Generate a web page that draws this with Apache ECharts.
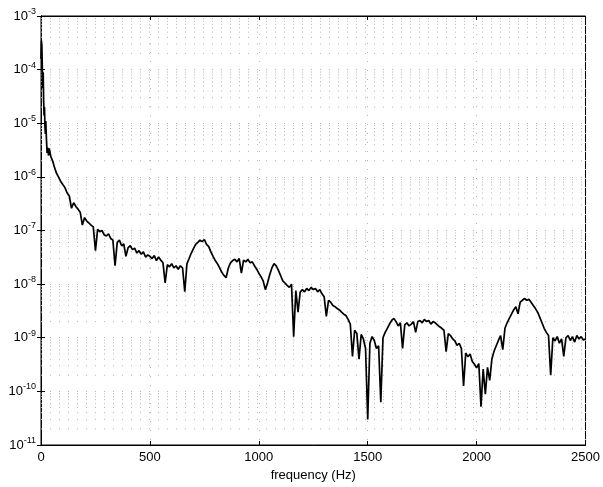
<!DOCTYPE html>
<html lang="en">
<head>
    <meta charset="UTF-8">
    <title>Spectrum</title>
    <script src="https://cdn.jsdelivr.net/npm/echarts@6/dist/echarts.min.js"></script>
    <style>
	html, body { padding: 0; margin: 0; width: 100%; height: 100%; background: #fff; }
	#main { width: 603px; height: 487px; }
    </style>
</head>
<body>
    <div id="main"></div>
    <script type="text/javascript">
        // frequency samples (Hz)
        var freqHz = [
            0, 2, 4, 6, 8, 10, 12, 14, 16, 18, 20, 22, 25, 28, 30, 32, 35, 38, 41, 45, 50, 55,
            60, 70, 80, 90, 100, 110, 120, 130, 140, 150, 160, 170, 180, 190,
            200, 210, 220, 230, 240, 250, 260, 270, 280, 290,
            300, 310, 320, 330, 340, 350, 360, 370, 380, 390,
            400, 410, 420, 430, 440, 450, 460, 470, 480, 490,
            500, 510, 520, 530, 540, 550, 560, 570, 580, 590,
            600, 610, 620, 630, 640, 650, 660, 670, 680, 690,
            700, 710, 720, 730, 740, 750, 760, 770, 780, 790,
            800, 810, 820, 830, 840, 850, 860, 870, 880, 890,
            900, 910, 920, 930, 940, 950, 960, 970, 980, 990,
            1000, 1010, 1020, 1030, 1040, 1050, 1060, 1070, 1080, 1090,
            1100, 1110, 1120, 1130, 1140, 1150, 1160, 1170, 1180, 1190,
            1200, 1210, 1220, 1230, 1240, 1250, 1260, 1270, 1280, 1290,
            1300, 1310, 1320, 1330, 1340, 1350, 1360, 1370, 1380, 1390,
            1400, 1410, 1420, 1430, 1440, 1450, 1460, 1470, 1480, 1490,
            1500, 1510, 1520, 1530, 1540, 1550, 1560, 1570, 1580, 1590,
            1600, 1610, 1620, 1630, 1640, 1650, 1660, 1670, 1680, 1690,
            1700, 1710, 1720, 1730, 1740, 1750, 1760, 1770, 1780, 1790,
            1800, 1810, 1820, 1830, 1840, 1850, 1860, 1870, 1880, 1890,
            1900, 1910, 1920, 1930, 1940, 1950, 1960, 1970, 1980, 1990,
            2000, 2010, 2020, 2030, 2040, 2050, 2060, 2070, 2080, 2090,
            2100, 2110, 2120, 2130, 2140, 2150, 2160, 2170, 2180, 2190,
            2200, 2210, 2220, 2230, 2240, 2250, 2260, 2270, 2280, 2290,
            2300, 2310, 2320, 2330, 2340, 2350, 2360, 2370, 2380, 2390,
            2400, 2410, 2420, 2430, 2440, 2450, 2460, 2470, 2480, 2490,
            2500
        ];
        // power spectral density
        var psd = [
            1.6e-4, 3.5e-4, 2.8e-4, 1.1e-4, 4.5e-5, 8.9e-5, 2.8e-5, 1.4e-5, 2.0e-5, 8.9e-6, 6.3e-6, 1.1e-5, 5.0e-6, 2.8e-6, 3.5e-6, 3.3e-6, 2.5e-6, 3.4e-6, 3.2e-6, 2.4e-6, 2.5e-6, 1.9e-6,
            1.6e-6, 1.2e-6, 1.0e-6, 8.3e-7, 7.2e-7, 6.3e-7, 5.0e-7, 4.4e-7, 2.6e-7, 3.3e-7, 2.8e-7, 2.5e-7, 2.2e-7, 1.26e-7,
            1.74e-7, 1.5e-7, 1.38e-7, 1.26e-7, 1.17e-7, 4.2e-8, 1.05e-7, 9.5e-8, 1.0e-7, 8.3e-8,
            7.9e-8, 8.7e-8, 7.1e-8, 6.6e-8, 2.2e-8, 6.0e-8, 6.6e-8, 5.2e-8, 5.6e-8, 3.3e-8,
            4.8e-8, 5.2e-8, 4.4e-8, 4.7e-8, 3.8e-8, 4.2e-8, 3.6e-8, 4.0e-8, 3.2e-8, 3.5e-8,
            3.3e-8, 3.0e-8, 3.4e-8, 2.75e-8, 3.2e-8, 2.8e-8, 2.5e-8, 1.05e-8, 2.3e-8, 2.1e-8,
            2.4e-8, 2.0e-8, 2.2e-8, 1.9e-8, 2.2e-8, 2.0e-8, 7.2e-9, 2.4e-8, 3.0e-8, 3.8e-8,
            4.6e-8, 5.5e-8, 6.0e-8, 6.6e-8, 6.2e-8, 6.8e-8, 5.5e-8, 5.0e-8, 4.0e-8, 3.3e-8,
            2.75e-8, 2.4e-8, 2.0e-8, 1.66e-8, 1.45e-8, 1.32e-8, 2.0e-8, 2.5e-8, 2.75e-8, 2.9e-8,
            2.6e-8, 3.0e-8, 1.6e-8, 2.8e-8, 2.6e-8, 2.9e-8, 2.5e-8, 2.6e-8, 2.2e-8, 1.9e-8,
            1.6e-8, 1.38e-8, 1.15e-8, 7.9e-9, 1.05e-8, 1.5e-8, 2.0e-8, 2.4e-8, 2.2e-8, 1.8e-8,
            1.45e-8, 1.15e-8, 1.05e-8, 9.5e-9, 8.7e-9, 1.0e-8, 1.05e-9, 7.6e-9, 3.0e-9, 7.1e-9,
            7.9e-9, 7.2e-9, 8.3e-9, 7.6e-9, 8.7e-9, 7.9e-9, 8.3e-9, 7.2e-9, 7.9e-9, 6.6e-9,
            5.8e-9, 2.5e-9, 5.0e-9, 4.6e-9, 4.0e-9, 3.8e-9, 3.5e-9, 3.3e-9, 3.0e-9, 2.75e-9,
            2.6e-9, 2.2e-9, 1.8e-9, 4.5e-10, 1.38e-9, 1.2e-9, 4.0e-10, 1.15e-9, 9.5e-10, 6.3e-10,
            3.0e-11, 7.9e-10, 1.05e-9, 8.9e-10, 6.3e-10, 7.1e-10, 6.3e-11, 1.0e-9, 1.26e-9, 1.5e-9,
            1.8e-9, 2.1e-9, 2.3e-9, 2.0e-9, 1.66e-9, 1.9e-9, 6.3e-10, 1.74e-9, 1.9e-9, 1.66e-9,
            1.8e-9, 2.0e-9, 1.26e-9, 2.0e-9, 2.1e-9, 1.9e-9, 2.2e-9, 2.0e-9, 2.1e-9, 1.8e-9,
            2.0e-9, 1.9e-9, 1.74e-9, 1.6e-9, 1.5e-9, 1.38e-9, 5.5e-10, 1.2e-9, 1.1e-9, 9.5e-10,
            8.7e-10, 7.2e-10, 7.9e-10, 6.3e-10, 1.26e-10, 5.2e-10, 4.4e-10, 5.0e-10, 3.6e-10, 3.2e-10,
            2.75e-10, 3.3e-10, 5.2e-11, 2.6e-10, 8.9e-11, 2.8e-10, 1.6e-10, 4.0e-10, 5.6e-10, 7.1e-10,
            8.9e-10, 1.1e-9, 6.0e-10, 1.5e-9, 1.9e-9, 2.3e-9, 2.75e-9, 3.3e-9, 3.8e-9, 2.8e-9,
            4.6e-9, 5.0e-9, 5.4e-9, 5.0e-9, 5.2e-9, 4.6e-9, 4.0e-9, 3.5e-9, 3.0e-9, 2.4e-9,
            1.9e-9, 1.5e-9, 1.26e-9, 1.1e-9, 2.0e-10, 1.0e-9, 8.7e-10, 1.05e-9, 7.9e-10, 9.5e-10,
            4.5e-10, 1.0e-9, 1.1e-9, 8.9e-10, 1.05e-9, 8.3e-10, 1.1e-9, 9.5e-10, 1.05e-9, 9.1e-10,
            9.5e-10
        ];
        // decades that get dotted minor grid lines at 2..9
        var minorDecades = [-11, -10, -9, -8, -7, -6, -5, -4];
        var minorSteps = [2, 3, 4, 5, 6, 7, 8, 9];

        var lineData = [];
        for (var i = 0; i < freqHz.length; i++) {
            lineData.push([freqHz[i], psd[i]]);
        }
        // minor grid drawn as broken horizontal segments
        var minorData = [];
        for (var d = 0; d < minorDecades.length; d++) {
            for (var m = 0; m < minorSteps.length; m++) {
                var v = minorSteps[m] * Math.pow(10, minorDecades[d]);
                minorData.push([0, v], [2500, v], [2500, '-']);
            }
        }

        var gridDots = { color: '#b4b4b4', width: 1, type: [1, 8] };
        var font = 'Liberation Sans, Arial, Helvetica, sans-serif';

        var chart = echarts.init(document.getElementById('main'), null, { renderer: 'canvas' });
        var option = {
            animation: false,
            backgroundColor: '#fff',
            grid: { left: 41, right: 16, top: 16, bottom: 41, show: true, borderColor: '#000', borderWidth: 1 },
            xAxis: [{
                type: 'value', min: 0, max: 2500, interval: 500,
                name: 'frequency (Hz)', nameLocation: 'middle', nameGap: 24,
                nameTextStyle: { color: '#000', fontSize: 13, fontFamily: font },
                axisLine: { onZero: false, lineStyle: { color: '#000' } },
                axisTick: { inside: true, length: 4, lineStyle: { color: '#000' } },
                axisLabel: { color: '#000', fontSize: 13, fontFamily: font, margin: 6,
                    formatter: function (v) { return String(v); } },
                splitLine: { show: true, lineStyle: gridDots }
            }, {
                type: 'value', min: 0, max: 2500, interval: 500, position: 'top',
                axisLine: { lineStyle: { color: '#000' } },
                axisTick: { inside: true, length: 4, lineStyle: { color: '#000' } },
                axisLabel: { show: false }, splitLine: { show: false }
            }],
            yAxis: [{
                type: 'log', logBase: 10, min: 1e-11, max: 1e-3,
                axisLine: { onZero: false, lineStyle: { color: '#000' } },
                axisTick: { inside: true, length: 4, lineStyle: { color: '#000' } },
                axisLabel: {
                    margin: 5,
                    formatter: function (v) {
                        return '{b|10}{s|' + Math.round(Math.log10(v)) + '}';
                    },
                    rich: {
                        b: { fontSize: 13, color: '#000', fontFamily: font },
                        s: { fontSize: 9, color: '#000', fontFamily: font, padding: [0, 0, 9, 0] }
                    }
                },
                splitLine: { show: true, lineStyle: gridDots }
            }, {
                type: 'log', logBase: 10, min: 1e-11, max: 1e-3, position: 'right',
                axisLine: { lineStyle: { color: '#000' } },
                axisTick: { inside: true, length: 4, lineStyle: { color: '#000' } },
                axisLabel: { show: false }, splitLine: { show: false }
            }],
            series: [{
                type: 'line',
                data: minorData,
                silent: true,
                showSymbol: false,
                connectNulls: false,
                lineStyle: gridDots,
                z: 1
            }, {
                type: 'line',
                data: lineData,
                showSymbol: false,
                sampling: null,
                lineStyle: { color: '#000', width: 1.7 },
                z: 3
            }]
        };
        chart.setOption(option);
    </script>
</body>
</html>
